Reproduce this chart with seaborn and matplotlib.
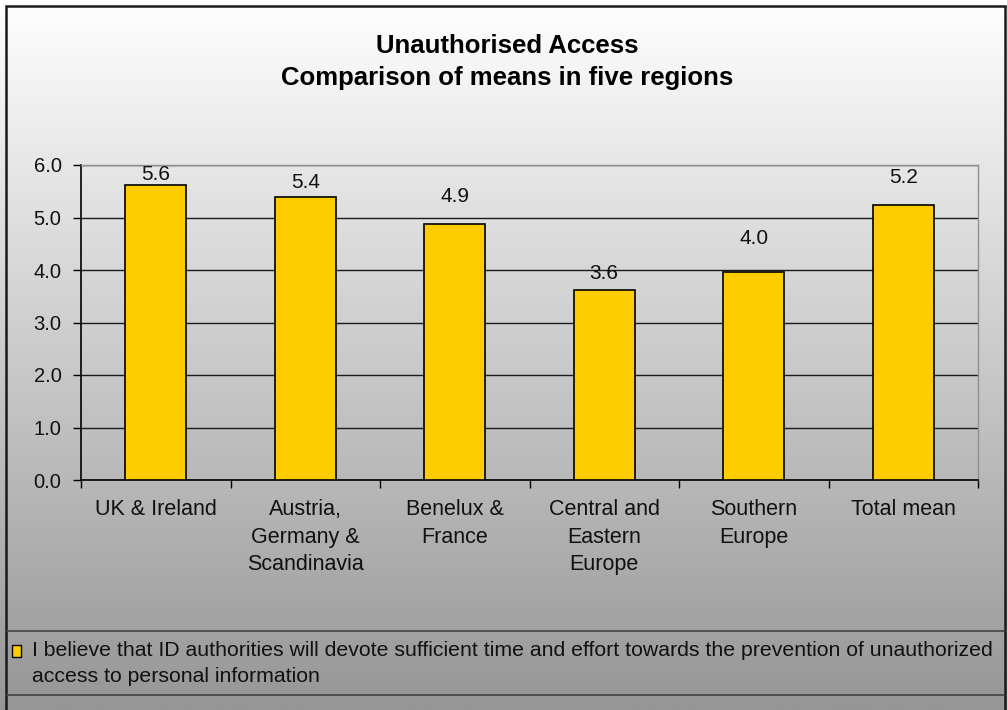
import numpy as np
import pandas as pd
import matplotlib
matplotlib.use("Agg")
import matplotlib.pyplot as plt
from matplotlib.patches import Rectangle
from matplotlib.lines import Line2D
import seaborn as sns

categories = ["UK & Ireland", "Austria,\nGermany &\nScandinavia", "Benelux &\nFrance",
              "Central and\nEastern\nEurope", "Southern\nEurope", "Total mean"]
means = [5.62, 5.40, 4.87, 3.62, 3.97, 5.24]
value_labels = ["5.6", "5.4", "4.9", "3.6", "4.0", "5.2"]
label_pad = [1, 3, 13, 5, 17, 13]  # points above bar tops, as placed in original
y_ticks = [0.0, 1.0, 2.0, 3.0, 4.0, 5.0, 6.0]
title = "Unauthorised Access\nComparison of means in five regions"
legend_line1 = "I believe that ID authorities will devote sufficient time and effort towards the prevention of unauthorized"
legend_line2 = "access to personal information"

sns.set_theme(style="white")
plt.rcParams["font.family"] = ["Liberation Sans", "DejaVu Sans"]

W, H = 1007, 710
fig = plt.figure(figsize=(W / 100, H / 100), dpi=100)

# background gradient
bg = fig.add_axes([0, 0, 1, 1], zorder=-10)
grad = np.linspace(255, 150, 256).reshape(-1, 1) / 255.0
bg.imshow(np.dstack([grad, grad, grad]), aspect="auto", extent=[0, 1, 0, 1])
bg.set_axis_off()

def fx(px):
    return px / W

def fy(py):
    return 1 - py / H

L, R, T, B = 81, 978, 165, 480
ax = fig.add_axes([fx(L), fy(B), fx(R) - fx(L), fy(T) - fy(B)])
ax.patch.set_alpha(0)

df = pd.DataFrame({"region": categories, "mean": means})
sns.barplot(data=df, x="region", y="mean", color="#FFCC00", edgecolor="black",
            linewidth=1.2, width=0.41, saturation=1, ax=ax, zorder=3)

FS = 15
ax.set_ylim(0, 6)
ax.set_xlim(-0.5, len(categories) - 0.5)
ax.set_yticks(y_ticks)
ax.set_yticklabels([f"{v:.1f}" for v in y_ticks], fontsize=14.5, color="#111111")
ax.yaxis.grid(True, color="#1a1a1a", linewidth=1.0, zorder=0)
ax.set_axisbelow(True)
ax.set_xlabel("")
ax.set_ylabel("")
ax.set_xticks(range(len(categories)))
ax.set_xticklabels(categories, fontsize=15.5, color="#111111", linespacing=1.4, va="top")
ax.set_xticks(np.arange(-0.5, len(categories) + 0.5, 1), minor=True)
ax.tick_params(axis="x", which="major", length=0, pad=14)
ax.tick_params(axis="x", which="minor", length=6, width=1, color="black", direction="out", bottom=True)
ax.tick_params(axis="y", which="major", length=6, width=1, color="black", direction="out", left=True, pad=8)

for s in ["left", "bottom"]:
    ax.spines[s].set_color("black")
    ax.spines[s].set_linewidth(1.2)
for s in ["top", "right"]:
    ax.spines[s].set_visible(True)
    ax.spines[s].set_color("#909090")
    ax.spines[s].set_linewidth(1.0)

for bar, lab, pad in zip(ax.patches, value_labels, label_pad):
    ax.annotate(lab, (bar.get_x() + bar.get_width() / 2, bar.get_height()),
                xytext=(0, pad), textcoords="offset points", ha="center", va="bottom",
                fontsize=FS, color="#111111", zorder=5)

fig.text(0.504, fy(62), title, ha="center", va="center", fontsize=18.5,
         fontweight="bold", linespacing=1.45, color="black")

# legend box
for yy in (631, 695):
    fig.add_artist(Line2D([fx(6), fx(1005)], [fy(yy), fy(yy)], color="#404040", linewidth=1.2))
fig.add_artist(Rectangle((fx(12), fy(657)), fx(9), 12 / H, facecolor="#FFCC00",
                         edgecolor="black", linewidth=1.0))
fig.text(fx(32), fy(650), legend_line1, ha="left", va="center", fontsize=15.3, color="#111111")
fig.text(fx(32), fy(677), legend_line2, ha="left", va="center", fontsize=15.3, color="#111111")

# outer border
fig.add_artist(Rectangle((fx(6), -0.05), fx(1005) - fx(6), fy(6) + 0.05, fill=False,
                         edgecolor="#1a1a1a", linewidth=1.8))

fig.savefig("out.png", dpi=100)
